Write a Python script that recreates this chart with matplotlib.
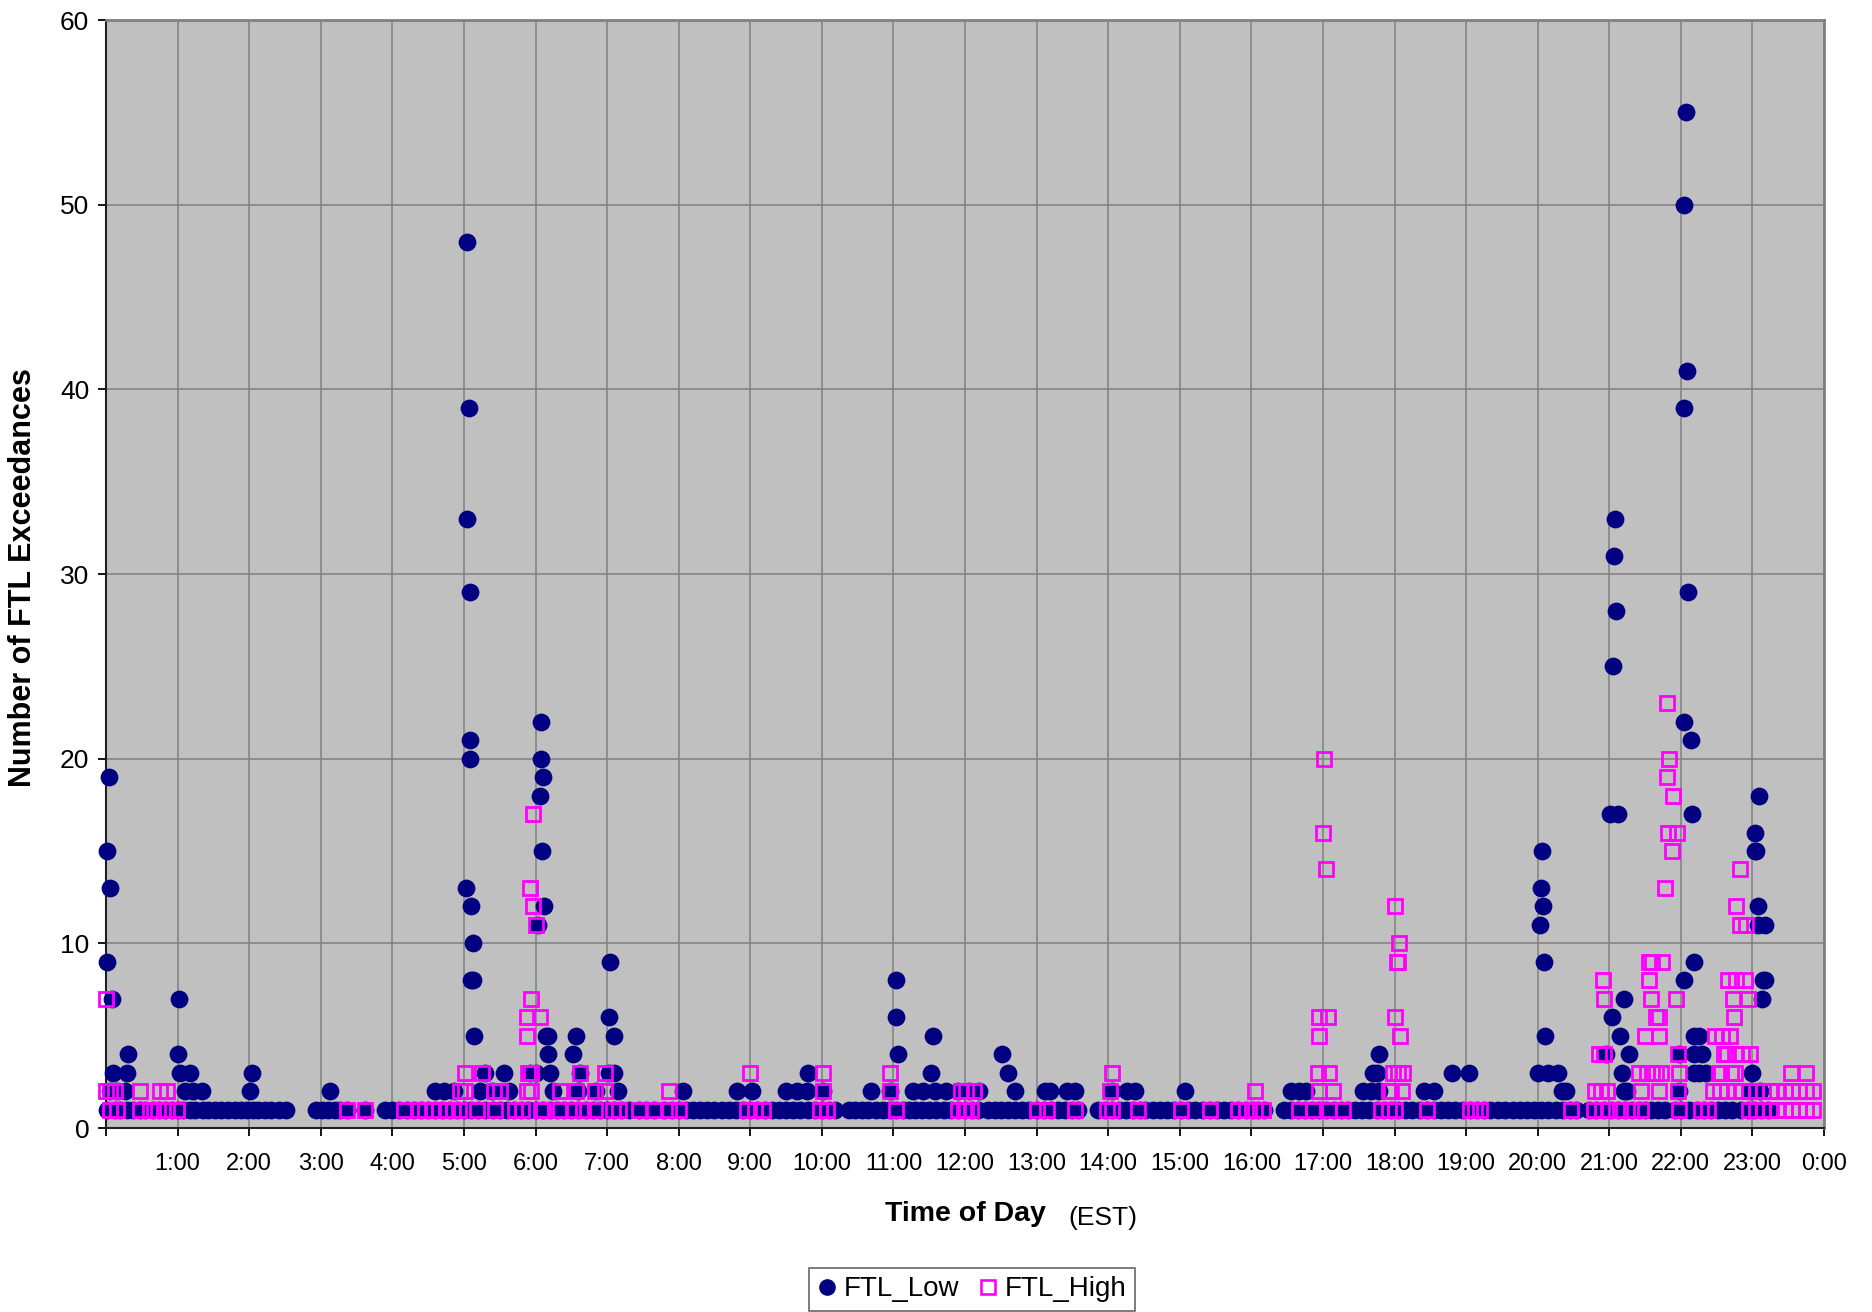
import matplotlib
matplotlib.use("Agg")
import matplotlib.pyplot as plt
from matplotlib.lines import Line2D

plt.rcParams['font.family'] = ['Liberation Sans', 'DejaVu Sans']

# ---------------- DATA (hours of day, counts) ----------------
low_t1 = [0.02, 0.12, 0.2, 0.3, 0.38, 0.47, 0.55, 0.65, 0.74, 0.82, 0.92, 1.0, 1.08, 1.17, 1.25,
          1.35, 1.43, 1.52, 1.6, 1.7, 1.8, 1.88, 1.97, 2.05, 2.13, 2.22, 2.3, 2.42, 2.52,
          2.93, 3.02, 3.1, 3.2, 3.27, 3.37, 3.62, 3.9, 4.0, 4.1, 4.2, 4.3, 4.4, 4.5, 4.6, 4.7,
          4.8, 4.9, 5.0, 5.1, 5.2, 5.3, 5.4, 5.5, 5.6, 5.7, 5.8, 5.9, 6.0, 6.1, 6.2, 6.3, 6.4,
          6.5, 6.6, 6.7, 6.8, 6.9, 7.0, 7.1, 7.2, 7.3, 7.45, 7.55, 7.66, 7.8, 7.9, 8.0, 8.1,
          8.2, 8.3, 8.4, 8.5, 8.6, 8.7, 8.8, 8.9, 9.0, 9.1, 9.2, 9.3, 9.4, 9.5, 9.6, 9.7, 9.8,
          9.9, 10.0, 10.1, 10.18, 10.38, 10.47, 10.56, 10.65, 10.75, 10.85, 10.95, 11.04,
          11.13, 11.22, 11.3, 11.4, 11.5, 11.6, 11.7, 11.8, 11.9, 12.0, 12.1, 12.18, 12.32,
          12.42, 12.5, 12.6, 12.7, 12.8, 12.9, 13.0, 13.1, 13.2, 13.3, 13.4, 13.5, 13.58,
          13.86, 13.95, 14.05, 14.15, 14.25, 14.35, 14.45, 14.52, 14.62, 14.72, 14.82, 14.92,
          15.02, 15.12, 15.22, 15.32, 15.42, 15.52, 15.62, 15.72, 15.82, 15.92, 16.02, 16.1,
          16.18, 16.46, 16.55, 16.65, 16.75, 16.85, 16.95, 17.05, 17.15, 17.25, 17.35, 17.45,
          17.55, 17.65, 17.75, 17.85, 17.95, 18.05, 18.15, 18.25, 18.35, 18.45, 18.55, 18.65,
          18.75, 18.85, 18.95, 19.05, 19.15, 19.25, 19.33, 19.45, 19.55, 19.65, 19.75, 19.85,
          19.95, 20.05, 20.15, 20.25, 20.35, 20.45, 20.54, 20.72, 20.82, 20.92, 21.02, 21.12,
          21.22, 21.32, 21.42, 21.5, 21.58, 21.68, 21.78, 21.92, 22.0, 22.12, 22.22, 22.32,
          22.42, 22.52, 22.62, 22.72, 22.84, 22.94, 23.02, 23.12, 23.22]
low_t2 = [0.05, 0.15, 0.27, 1.1, 1.22, 1.34, 2.01, 3.13, 4.6, 4.72, 4.86, 5.23, 5.39, 5.63,
          6.24, 6.59, 6.85, 7.15, 8.06, 8.81, 9.02, 9.5, 9.65, 9.79, 10.02, 10.69, 10.95,
          11.28, 11.42, 11.58, 11.74, 11.9, 12.05, 12.19, 12.7, 13.12, 13.19, 13.42, 13.53,
          14.05, 14.26, 14.37, 15.07, 16.56, 16.67, 16.77, 17.56, 17.67, 17.79, 18.41, 18.55,
          20.34, 20.4, 21.2, 21.25, 21.98, 22.98, 23.1]
low_t3 = [0.1, 0.29, 1.03, 1.17, 2.04, 5.3, 5.56, 5.93, 6.01, 6.2, 6.62, 7.03, 7.1, 9.81,
          11.53, 12.6, 17.7, 17.75, 18.81, 19.04, 20.0, 20.14, 20.28, 21.18, 22.18, 22.26,
          22.35, 23.0]
low_t4 = [0.31, 1.01, 6.17, 6.52, 11.07, 12.52, 17.79, 20.95, 21.28, 21.98, 22.18, 22.29]
low_peak_t = [0.04, 0.02, 0.06, 0.01, 0.08, 1.02,
              5.05, 5.07, 5.04, 5.08, 5.08, 5.09, 5.03, 5.1, 5.13, 5.1, 5.12, 5.14,
              6.07, 6.08, 6.1, 6.06, 6.09, 6.12, 6.03, 6.14, 6.18,
              6.57, 7.04, 7.03, 7.1, 11.04, 11.03, 11.55,
              20.06, 20.05, 20.08, 20.03, 20.09, 20.1,
              21.05, 21.01, 21.12, 21.08, 21.07, 21.09, 21.2, 21.04, 21.15,
              22.07, 22.05, 22.08, 22.04, 22.1, 22.04, 22.14, 22.16, 22.18, 22.04, 22.18, 22.26,
              23.09, 23.04, 23.03, 23.05, 23.08, 23.08, 23.18, 23.15, 23.18, 23.14]
low_peak_v = [19, 15, 13, 9, 7, 7,
              48, 39, 33, 29, 21, 20, 13, 12, 10, 8, 8, 5,
              22, 20, 19, 18, 15, 12, 11, 5, 5,
              5, 9, 6, 5, 8, 6, 5,
              15, 13, 12, 11, 9, 5,
              25, 17, 17, 33, 31, 28, 7, 6, 5,
              55, 50, 41, 39, 29, 22, 21, 17, 9, 8, 5, 5,
              18, 16, 15, 15, 12, 11, 11, 8, 8, 7]

high_t1 = [0.06, 0.15, 0.48, 0.62, 0.73, 0.85, 0.99, 3.37, 3.62, 4.16, 4.37, 4.45, 4.55, 4.65,
           4.76, 4.85, 4.93, 5.18, 5.44, 5.72, 5.81, 6.07, 6.1, 6.34, 6.52, 6.66, 6.83, 7.08,
           7.17, 7.45, 7.66, 7.87, 8.01, 8.95, 9.06, 9.18, 9.97, 10.07, 11.04, 11.9, 11.98,
           12.02, 12.09, 13.0, 13.14, 13.53, 13.98, 14.05, 14.42, 15.02, 15.42, 15.81, 15.93,
           16.05, 16.16, 16.67, 16.86, 17.09, 17.28, 17.81, 17.93, 18.0, 18.46, 19.05, 19.12,
           19.2, 20.46, 20.78, 20.9, 21.0, 21.15, 21.3, 21.45, 21.98, 22.28, 22.38, 22.95,
           23.05, 23.15, 23.25, 23.35, 23.45, 23.55, 23.65, 23.75, 23.85]
high_t2 = [0.0, 0.05, 0.13, 0.48, 0.76, 0.85, 4.95, 5.02, 5.42, 5.51, 5.88, 5.94, 6.34, 6.57,
           6.83, 6.97, 7.87, 10.02, 10.95, 11.95, 12.02, 12.12, 14.02, 16.05, 16.95, 17.14,
           17.93, 17.95, 18.1, 20.8, 20.88, 20.97, 21.44, 21.7, 21.96, 22.45, 22.55, 22.65,
           22.75, 22.85, 22.95, 23.05, 23.15, 23.25, 23.35, 23.45, 23.55, 23.65, 23.75, 23.85]
high_t3 = [5.02, 5.25, 5.9, 5.94, 6.62, 6.97, 8.99, 10.01, 10.95, 14.06, 16.93, 17.09, 17.98,
           18.05, 18.12, 21.42, 21.53, 21.6, 21.65, 21.72, 21.98, 22.53, 22.56, 22.7, 22.75,
           23.54, 23.75]
high_t4 = [20.85, 20.92, 21.96, 22.6, 22.65, 22.75, 22.85, 22.96]
high_peak_t = [0.0, 5.96, 5.93, 5.96, 6.0, 5.94, 5.88, 6.06, 5.88,
               16.95, 17.07, 16.95, 17.02, 17.0, 17.05,
               18.01, 18.06, 18.03, 18.05, 18.0, 18.08, 20.91, 20.92,
               21.81, 21.83, 21.8, 21.89, 21.82, 21.94, 21.87, 21.78, 21.6, 21.73, 21.56,
               21.55, 21.58, 21.93, 21.65, 21.7, 21.5, 21.7,
               22.82, 22.77, 22.82, 22.91, 22.66, 22.77, 22.89, 22.73, 22.94, 22.74,
               22.48, 22.58, 22.69]
high_peak_v = [7, 17, 13, 12, 11, 7, 6, 6, 5,
               6, 6, 5, 20, 16, 14,
               12, 10, 9, 9, 6, 5, 8, 7,
               23, 20, 19, 18, 16, 16, 15, 13, 9, 9, 9,
               8, 7, 7, 6, 6, 5, 5,
               14, 12, 11, 11, 8, 8, 8, 7, 7, 6,
               5, 5, 5]

x_tick_labels = [''] + ['%d:00' % h for h in range(1, 24)] + ['0:00']
y_ticks = [0, 10, 20, 30, 40, 50, 60]

# ---------------- assemble ----------------
low_x = low_t1 + low_t2 + low_t3 + low_t4 + low_peak_t
low_y = [1] * len(low_t1) + [2] * len(low_t2) + [3] * len(low_t3) + [4] * len(low_t4) + low_peak_v
high_x = high_t1 + high_t2 + high_t3 + high_t4 + high_peak_t
high_y = [1] * len(high_t1) + [2] * len(high_t2) + [3] * len(high_t3) + [4] * len(high_t4) + high_peak_v

NAVY = '#000080'
MAG = '#FF00FF'

fig = plt.figure(figsize=(18.72, 13.12), dpi=100)
ax = fig.add_axes([106 / 1872, 1 - 1128 / 1312, (1824 - 106) / 1872, (1128 - 20) / 1312])
ax.set_facecolor('#C0C0C0')

ax.plot(low_x, low_y, linestyle='none', marker='o', ms=12.8, mfc=NAVY, mec=NAVY, mew=0,
        zorder=3, clip_on=False)
ax.plot(high_x, high_y, linestyle='none', marker='s', ms=10.6, mfc='none', mec=MAG, mew=2.0,
        zorder=4, clip_on=False)

ax.set_xlim(0, 24)
ax.set_ylim(0, 60)
ax.set_xticks(range(25))
ax.set_xticklabels(x_tick_labels)
ax.set_yticks(y_ticks)
ax.grid(True, color='#808080', linewidth=1.1)
ax.set_axisbelow(True)
ax.tick_params(axis='x', direction='out', length=6, width=1.3, labelsize=17, pad=12)
ax.tick_params(axis='y', direction='out', length=6, width=1.3, labelsize=19, pad=6)

for s in ['top', 'right']:
    ax.spines[s].set_color('#808080')
    ax.spines[s].set_linewidth(2)
for s in ['left', 'bottom']:
    ax.spines[s].set_color('#202020')
    ax.spines[s].set_linewidth(1.5)

fig.text(0.0125, 0.56, 'Number of FTL Exceedances', rotation=90, fontsize=22,
         fontweight='bold', ha='center', va='center')
fig.text(965 / 1872, 1 - 1214 / 1312, 'Time of Day', fontsize=20.5, fontweight='bold',
         ha='center', va='center')
fig.text(1068 / 1872, 1 - 1218 / 1312, '(EST)', fontsize=19, ha='left', va='center')

handles = [Line2D([], [], linestyle='none', marker='o', ms=12, mfc=NAVY, mec=NAVY, mew=0),
           Line2D([], [], linestyle='none', marker='s', ms=9.5, mfc='none', mec=MAG, mew=1.9)]
leg = fig.legend(handles, ['FTL_Low', 'FTL_High'], loc='upper center',
                 bbox_to_anchor=(972 / 1872, 1 - 1268 / 1312), borderaxespad=0, ncol=2,
                 fontsize=20, frameon=True, fancybox=False, edgecolor='#404040',
                 handlelength=0.7, handletextpad=0.25, columnspacing=0.7, borderpad=0.3)
leg.get_frame().set_linewidth(1.2)

fig.savefig('out.png', dpi=100)
